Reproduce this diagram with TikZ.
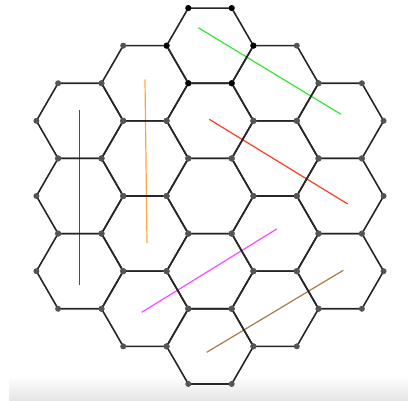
\documentclass[tikz,border=0pt]{standalone}
\usepackage{xcolor}
\usepackage{tikz}
\usetikzlibrary{shapes.geometric}

\definecolor{segGreen}{HTML}{33E633}
\definecolor{segRed}{HTML}{FF3A22}
\definecolor{segOrange}{HTML}{FFA838}
\definecolor{segBlue}{HTML}{2A45D8}
\definecolor{segMagenta}{HTML}{FF48FF}
\definecolor{segBrown}{HTML}{AA7A48}
\definecolor{dotgray}{HTML}{555555}

\begin{document}
\begin{tikzpicture}[
  x=1pt, y=-1pt,
  hexcell/.style={draw, regular polygon, regular polygon sides=6,
    minimum size=86.8pt, inner sep=0pt, outer sep=0pt, line width=1.6pt, color=black!85},
  vdot/.style={fill=dotgray},
  topdot/.style={fill=black},
  seg/.style={line width=1.2pt}
]
  \useasboundingbox (0,0) rectangle (408,400);
  \shade[top color=white, bottom color=black!10] (9,375) rectangle (408,400);

  % segments
  \coordinate (g1) at (198.3,27.7);  \coordinate (g2) at (341,114.3);
  \coordinate (r1) at (209.3,119.3); \coordinate (r2) at (347.7,204);
  \coordinate (o1) at (145,79.3);    \coordinate (o2) at (147,243);
  \coordinate (b1) at (79.7,110);    \coordinate (b2) at (79.7,285.3);
  \coordinate (m1) at (276.7,229);   \coordinate (m2) at (141.7,312.3);
  \coordinate (w1) at (343.3,270.3); \coordinate (w2) at (206.7,352.3);
  \draw[seg, segGreen] (g1) -- (g2);
  \draw[seg, segRed] (r1) -- (r2);
  \draw[seg, segOrange] (o1) -- (o2);
  \draw[seg, segBlue] (b1) -- (b2);
  \draw[seg, segMagenta] (m1) -- (m2);
  \draw[seg, segBrown] (w1) -- (w2);

  % hex grid, column by column
  \foreach \q/\cnt in {-2/3,-1/4,0/5,1/4,2/3} {
    \foreach \k in {1,...,\cnt} {
      \node[hexcell] (h\q\k) at ({210+65.1*\q},{196+37.59*(2*\k-\cnt-1)}) {};
    }
  }
  \foreach \q/\cnt in {-2/3,-1/4,0/5,1/4,2/3} {
    \foreach \k in {1,...,\cnt} {
      \foreach \c in {1,...,6} {
        \fill[vdot] (h\q\k.corner \c) circle (3pt);
      }
    }
  }
  \foreach \c in {1,...,6} {
    \fill[topdot] (h01.corner \c) circle (3pt);
  }
\end{tikzpicture}
\end{document}
